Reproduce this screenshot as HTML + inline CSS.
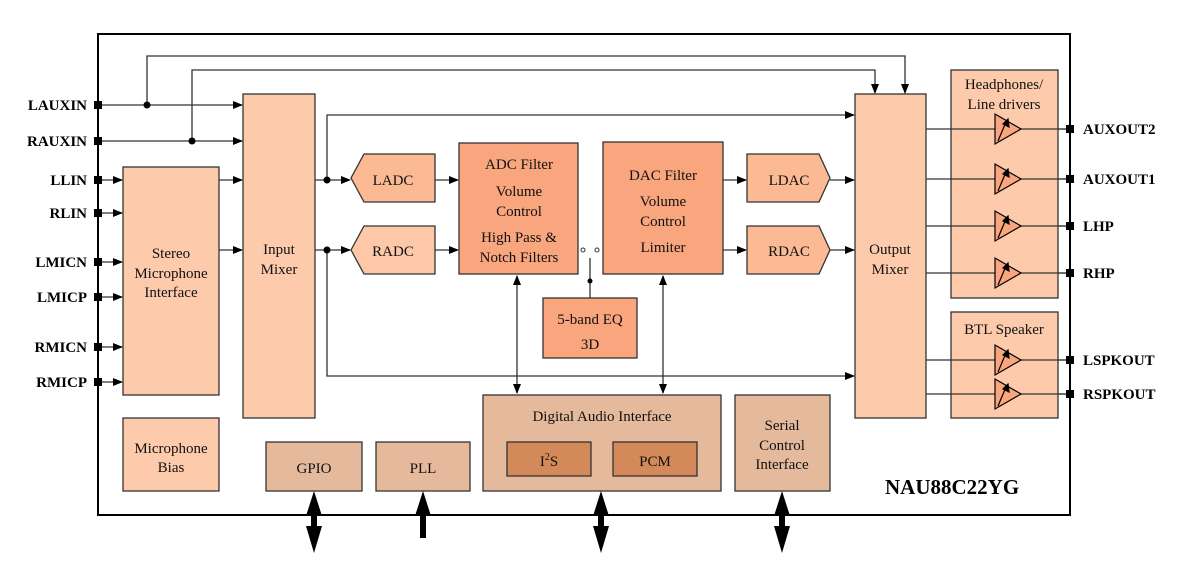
<!DOCTYPE html>
<html><head><meta charset="utf-8"><style>
html,body{margin:0;padding:0;background:#fff;}
svg{display:block;font-family:"Liberation Serif",serif;}
</style></head><body>
<svg width="1188" height="576" viewBox="0 0 1188 576" xmlns="http://www.w3.org/2000/svg">
<defs>
<marker id="a" markerWidth="10" markerHeight="8" refX="9" refY="4" orient="auto" markerUnits="userSpaceOnUse"><path d="M0,0 L10,4 L0,8 Z" fill="#000"/></marker>
<marker id="as" markerWidth="10" markerHeight="8" refX="1" refY="4" orient="auto" markerUnits="userSpaceOnUse"><path d="M10,0 L0,4 L10,8 Z" fill="#000"/></marker>
</defs>
<rect width="1188" height="576" fill="#fff"/>
<rect x="98" y="34" width="972" height="481" fill="none" stroke="#000" stroke-width="2"/>

<g stroke="#333" stroke-width="1.3" fill="none">
<!-- top feedback lines -->
<polyline points="147,105 147,56 905,56 905,93" marker-end="url(#a)"/>
<polyline points="192,141 192,70 875,70 875,93" marker-end="url(#a)"/>
<line x1="98" y1="105" x2="242" y2="105" marker-end="url(#a)"/>
<line x1="98" y1="141" x2="242" y2="141" marker-end="url(#a)"/>
<!-- inputs to stereo -->
<line x1="98" y1="180" x2="122" y2="180" marker-end="url(#a)"/>
<line x1="98" y1="213" x2="122" y2="213" marker-end="url(#a)"/>
<line x1="98" y1="262" x2="122" y2="262" marker-end="url(#a)"/>
<line x1="98" y1="297" x2="122" y2="297" marker-end="url(#a)"/>
<line x1="98" y1="347" x2="122" y2="347" marker-end="url(#a)"/>
<line x1="98" y1="382" x2="122" y2="382" marker-end="url(#a)"/>
<line x1="219" y1="180" x2="242" y2="180" marker-end="url(#a)"/>
<line x1="219" y1="250" x2="242" y2="250" marker-end="url(#a)"/>
<!-- input mixer outputs -->
<line x1="315" y1="180" x2="350" y2="180" marker-end="url(#a)"/>
<line x1="315" y1="250" x2="350" y2="250" marker-end="url(#a)"/>
<polyline points="327,180 327,115 854,115" marker-end="url(#a)"/>
<polyline points="327,250 327,376 854,376" marker-end="url(#a)"/>
<line x1="435" y1="180" x2="458" y2="180" marker-end="url(#a)"/>
<line x1="435" y1="250" x2="458" y2="250" marker-end="url(#a)"/>
<line x1="723" y1="180" x2="746" y2="180" marker-end="url(#a)"/>
<line x1="723" y1="250" x2="746" y2="250" marker-end="url(#a)"/>
<line x1="830" y1="180" x2="854" y2="180" marker-end="url(#a)"/>
<line x1="830" y1="250" x2="854" y2="250" marker-end="url(#a)"/>
<!-- EQ switch -->
<line x1="590" y1="258" x2="590" y2="298"/>
<!-- bidir -->
<line x1="517" y1="276" x2="517" y2="393" marker-start="url(#as)" marker-end="url(#a)"/>
<line x1="663" y1="276" x2="663" y2="393" marker-start="url(#as)" marker-end="url(#a)"/>
<!-- outputs -->
<line x1="926" y1="129" x2="1070" y2="129"/>
<line x1="926" y1="179" x2="1070" y2="179"/>
<line x1="926" y1="226" x2="1070" y2="226"/>
<line x1="926" y1="273" x2="1070" y2="273"/>
<line x1="926" y1="360" x2="1070" y2="360"/>
<line x1="926" y1="394" x2="1070" y2="394"/>
</g>

<!-- blocks -->
<g stroke="#333" stroke-width="1.3">
<rect x="123" y="167" width="96" height="228" fill="#fdcbac"/>
<rect x="123" y="418" width="96" height="73" fill="#fdcbac"/>
<rect x="243" y="94" width="72" height="324" fill="#fdcbac"/>
<polygon points="364,154 435,154 435,202 364,202 351,178" fill="#fbb994"/>
<polygon points="364,226 435,226 435,274 364,274 351,250" fill="#fdc8a8"/>
<rect x="459" y="143" width="119" height="131" fill="#f9a57e"/>
<rect x="603" y="142" width="120" height="132" fill="#f9a57e"/>
<rect x="543" y="298" width="94" height="60" fill="#f9a57e"/>
<polygon points="747,154 819,154 830,178 819,202 747,202" fill="#fbb994"/>
<polygon points="747,226 819,226 830,250 819,274 747,274" fill="#fbb994"/>
<rect x="855" y="94" width="71" height="324" fill="#fdcbac"/>
<rect x="951" y="70" width="107" height="228" fill="#fdcbac"/>
<rect x="951" y="312" width="107" height="106" fill="#fdcbac"/>
<rect x="483" y="395" width="238" height="96" fill="#e5b99b"/>
<rect x="507" y="442" width="84" height="34" fill="#d4895a"/>
<rect x="613" y="442" width="84" height="34" fill="#d4895a"/>
<rect x="735" y="395" width="95" height="96" fill="#e5b99b"/>
<rect x="266" y="442" width="96" height="49" fill="#e5b99b"/>
<rect x="376" y="442" width="94" height="49" fill="#e5b99b"/>
</g>

<!-- lines over output boxes -->
<g stroke="#333" stroke-width="1.3">
<line x1="951" y1="129" x2="1070" y2="129"/><line x1="951" y1="179" x2="1070" y2="179"/>
<line x1="951" y1="226" x2="1070" y2="226"/><line x1="951" y1="273" x2="1070" y2="273"/>
<line x1="951" y1="360" x2="1070" y2="360"/><line x1="951" y1="394" x2="1070" y2="394"/>
</g>
<!-- amps -->
<g stroke="#000" stroke-width="1.2">
<g transform="translate(995,129)"><polygon points="0,-15 26,0 0,15" fill="#f9a57e"/><line x1="3" y1="12" x2="11" y2="-7"/><path d="M13,-10 L14,-2 L8,-5 Z" fill="#000"/></g>
<g transform="translate(995,179)"><polygon points="0,-15 26,0 0,15" fill="#f9a57e"/><line x1="3" y1="12" x2="11" y2="-7"/><path d="M13,-10 L14,-2 L8,-5 Z" fill="#000"/></g>
<g transform="translate(995,226)"><polygon points="0,-15 26,0 0,15" fill="#f9a57e"/><line x1="3" y1="12" x2="11" y2="-7"/><path d="M13,-10 L14,-2 L8,-5 Z" fill="#000"/></g>
<g transform="translate(995,273)"><polygon points="0,-15 26,0 0,15" fill="#f9a57e"/><line x1="3" y1="12" x2="11" y2="-7"/><path d="M13,-10 L14,-2 L8,-5 Z" fill="#000"/></g>
<g transform="translate(995,360)"><polygon points="0,-15 26,0 0,15" fill="#f9a57e"/><line x1="3" y1="12" x2="11" y2="-7"/><path d="M13,-10 L14,-2 L8,-5 Z" fill="#000"/></g>
<g transform="translate(995,394)"><polygon points="0,-15 26,0 0,15" fill="#f9a57e"/><line x1="3" y1="12" x2="11" y2="-7"/><path d="M13,-10 L14,-2 L8,-5 Z" fill="#000"/></g>
</g>

<!-- dots & squares -->
<g fill="#000">
<circle cx="147" cy="105" r="3.5"/><circle cx="192" cy="141" r="3.5"/>
<circle cx="327" cy="180" r="3.5"/><circle cx="327" cy="250" r="3.5"/>
<circle cx="590" cy="281" r="2.5"/>
<rect x="94" y="101" width="8" height="8"/><rect x="94" y="137" width="8" height="8"/>
<rect x="94" y="176" width="8" height="8"/><rect x="94" y="209" width="8" height="8"/>
<rect x="94" y="258" width="8" height="8"/><rect x="94" y="293" width="8" height="8"/>
<rect x="94" y="343" width="8" height="8"/><rect x="94" y="378" width="8" height="8"/>
<rect x="1066" y="125" width="8" height="8"/><rect x="1066" y="175" width="8" height="8"/>
<rect x="1066" y="222" width="8" height="8"/><rect x="1066" y="269" width="8" height="8"/>
<rect x="1066" y="356" width="8" height="8"/><rect x="1066" y="390" width="8" height="8"/>
</g>
<g fill="#fff" stroke="#333" stroke-width="1"><circle cx="583" cy="250" r="2"/><circle cx="597" cy="250" r="2"/></g>

<!-- big arrows -->
<g fill="#000">
<g transform="translate(314,0)"><path d="M0,491 L-8,516 L-3,516 L-3,526 L-8,526 L0,553 L8,526 L3,526 L3,516 L8,516 Z"/></g>
<g transform="translate(601,0)"><path d="M0,491 L-8,516 L-3,516 L-3,526 L-8,526 L0,553 L8,526 L3,526 L3,516 L8,516 Z"/></g>
<g transform="translate(782,0)"><path d="M0,491 L-8,516 L-3,516 L-3,526 L-8,526 L0,553 L8,526 L3,526 L3,516 L8,516 Z"/></g>
<path d="M423,491 L415,516 L420,516 L420,538 L426,538 L426,516 L431,516 Z"/>
</g>

<!-- text -->
<g font-size="15" font-weight="bold" text-anchor="end" fill="#000">
<text x="87" y="110">LAUXIN</text><text x="87" y="146">RAUXIN</text>
<text x="87" y="185">LLIN</text><text x="87" y="218">RLIN</text>
<text x="87" y="267">LMICN</text><text x="87" y="302">LMICP</text>
<text x="87" y="352">RMICN</text><text x="87" y="387">RMICP</text>
</g>
<g font-size="15" font-weight="bold" fill="#000">
<text x="1083" y="134">AUXOUT2</text><text x="1083" y="184">AUXOUT1</text>
<text x="1083" y="231">LHP</text><text x="1083" y="278">RHP</text>
<text x="1083" y="365">LSPKOUT</text><text x="1083" y="399">RSPKOUT</text>
<text x="885" y="494" font-size="21">NAU88C22YG</text>
</g>
<g font-size="15" text-anchor="middle" fill="#111">
<text x="171" y="258">Stereo</text><text x="171" y="278">Microphone</text><text x="171" y="297">Interface</text>
<text x="171" y="453">Microphone</text><text x="171" y="472">Bias</text>
<text x="279" y="254">Input</text><text x="279" y="274">Mixer</text>
<text x="393" y="185">LADC</text><text x="393" y="256">RADC</text>
<text x="519" y="169">ADC Filter</text><text x="519" y="196">Volume</text><text x="519" y="216">Control</text>
<text x="519" y="242">High Pass &amp;</text><text x="519" y="262">Notch Filters</text>
<text x="663" y="180">DAC Filter</text><text x="663" y="206">Volume</text><text x="663" y="226">Control</text>
<text x="663" y="252">Limiter</text>
<text x="590" y="324">5-band EQ</text><text x="590" y="349">3D</text>
<text x="789" y="185">LDAC</text><text x="789" y="256">RDAC</text>
<text x="890" y="254">Output</text><text x="890" y="274">Mixer</text>
<text x="1004" y="89">Headphones/</text><text x="1004" y="109">Line drivers</text>
<text x="1004" y="334">BTL Speaker</text>
<text x="602" y="421">Digital Audio Interface</text>
<text x="549" y="466">I<tspan font-size="10" dy="-6">2</tspan><tspan dy="6">S</tspan></text>
<text x="655" y="466">PCM</text>
<text x="782" y="430">Serial</text><text x="782" y="450">Control</text><text x="782" y="469">Interface</text>
<text x="314" y="473">GPIO</text><text x="423" y="473">PLL</text>
</g>
</svg>
</body></html>
